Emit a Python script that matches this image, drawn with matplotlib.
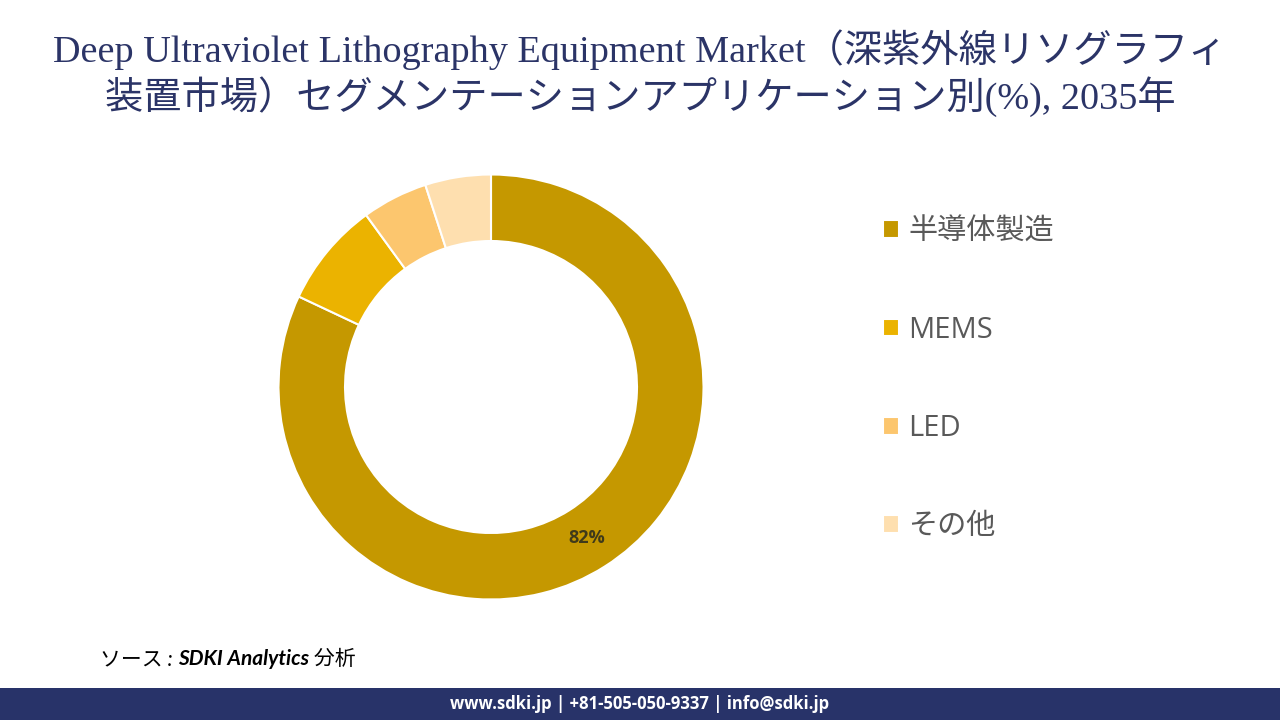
import matplotlib.pyplot as plt
from matplotlib.patches import Rectangle

# data
labels = ['半導体製造', 'MEMS', 'LED', 'その他']
shares = [82, 8, 5, 5]
colors = ['#C59800', '#EBB300', '#FCC66E', '#FEDFAF']

title = ('Deep Ultraviolet Lithography Equipment Market（深紫外線リソグラフィ\n'
         '装置市場）セグメンテーションアプリケーション別(%), 2035年')
source_parts = ['ソース : ', 'SDKI Analytics', ' 分析']
footer = 'www.sdki.jp | +81-505-050-9337 | info@sdki.jp'

plt.rcParams['font.family'] = ['Open Sans', 'Noto Sans CJK JP', 'DejaVu Sans']

fig = plt.figure(figsize=(12.8, 7.2), dpi=100)
W, H = 1280, 720

# donut: centre (491, 387) px, outer radius 212.5 px
cx, cy, r = 491, 387, 212.5
ax = fig.add_axes([(cx - r) / W, 1 - (cy + r) / H, 2 * r / W, 2 * r / H])


def pct_label(p):
    return '%d%%' % round(p) if p > 10 else ''


wedges, texts, autotexts = ax.pie(
    shares, colors=colors, startangle=90, counterclock=False,
    autopct=pct_label, pctdistance=0.84,
    wedgeprops=dict(width=0.313, edgecolor='white', linewidth=1.5),
    textprops=dict(fontsize=13, fontweight='bold', color='#3F3A1A',
                   family=['Open Sans', 'DejaVu Sans']))
ax.set_xlim(-1, 1)
ax.set_ylim(-1, 1)
ax.set_aspect('equal')

# legend
leg = fig.legend(wedges, labels, loc='upper left',
                 bbox_to_anchor=(857 / W, 1 - 191 / H), frameon=False,
                 fontsize=21, handlelength=0.55, handleheight=0.55,
                 handletextpad=0.3, labelspacing=2.38)
for t in leg.get_texts():
    t.set_color('#595959')

# title
fig.text(0.5, 1 - 73 / H, title, ha='center', va='center', fontsize=27.5,
         color='#2B3467', linespacing=1.2,
         family=['Liberation Serif', 'Noto Sans CJK JP'])

# source, written in pieces so only the company name is bold
renderer = fig.canvas.get_renderer()
x0 = 100
for part, weight in zip(source_parts, ['normal', 'bold', 'normal']):
    t = fig.text(x0 / W, 1 - 659 / H, part, ha='left', va='center',
                 fontsize=15, style='italic', fontweight=weight,
                 color='black', family=['Lato', 'Noto Sans CJK JP'])
    x0 = t.get_window_extent(renderer).x1

# footer bar
fig.patches.append(Rectangle((0, 0), 1, 32 / H, transform=fig.transFigure,
                             facecolor='#283369', edgecolor='none'))
fig.text(0.5, 16 / H, footer, ha='center', va='center', fontsize=12,
         fontweight='bold', color='white')

fig.savefig('out.png', dpi=100)
